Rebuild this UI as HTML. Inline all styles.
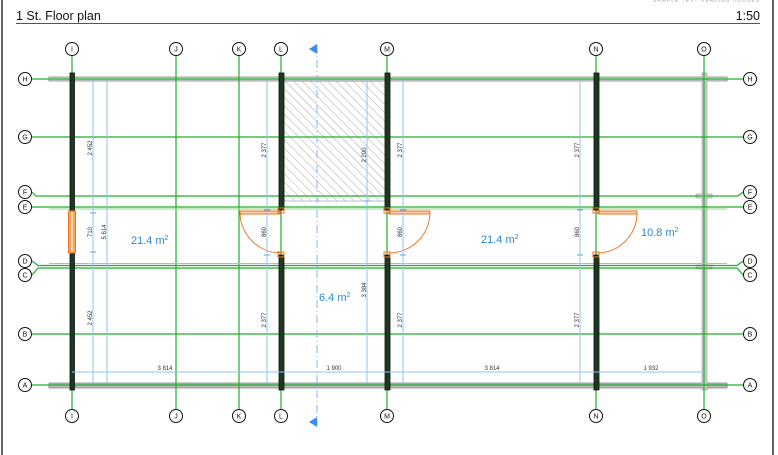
<!DOCTYPE html>
<html><head><meta charset="utf-8"><style>
html,body{margin:0;padding:0;background:#fff;width:778px;height:455px;overflow:hidden}
svg{display:block;font-family:"Liberation Sans",sans-serif}
</style></head><body>
<svg width="778" height="455" viewBox="0 0 778 455" xmlns="http://www.w3.org/2000/svg">
<defs>
<pattern id="h" width="6" height="6" patternUnits="userSpaceOnUse" patternTransform="rotate(-45)">
<line x1="0" y1="0" x2="0" y2="6" stroke="#999" stroke-width="0.8"/></pattern>
</defs>
<!-- frame -->
<line x1="2" y1="0" x2="2" y2="455" stroke="#000" stroke-width="1.2"/>
<line x1="773" y1="0" x2="773" y2="455" stroke="#000" stroke-width="1.2"/>
<text x="16" y="20" font-size="12.5" fill="#111">1 St. Floor plan</text>
<text x="760" y="20" font-size="12.5" fill="#111" text-anchor="end">1:50</text>
<text x="760" y="2" font-size="5" fill="#aaa" text-anchor="end" letter-spacing="1">SAMPLE TEXT HEADING HOUSES</text>
<line x1="16" y1="23.5" x2="760" y2="23.5" stroke="#555" stroke-width="1"/>

<!-- hatched area -->
<rect x="284" y="81" width="101" height="120" fill="url(#h)" stroke="#999" stroke-width="0.6"/>

<!-- outer walls -->
<rect x="49" y="77" width="678" height="4" fill="#ddd" stroke="#888" stroke-width="0.8"/>
<rect x="49" y="383" width="678" height="5" fill="#bbb" stroke="#888" stroke-width="0.8"/>
<rect x="702" y="73" width="5" height="317" fill="#ccc" stroke="#999" stroke-width="0.6"/>
<rect x="696" y="194" width="16" height="4" fill="#ddd" stroke="#999" stroke-width="0.6"/>
<rect x="696" y="265" width="16" height="4" fill="#ddd" stroke="#999" stroke-width="0.6"/>

<!-- grid lines -->
<g stroke="#1fae2a" stroke-width="1.2" fill="none">
<line x1="32" y1="79" x2="743" y2="79"/>
<line x1="32" y1="137" x2="743" y2="137"/>
<polyline points="32,192 36,196 738,196 743,192"/>
<line x1="32" y1="207" x2="743" y2="207"/>
<polyline points="32,261 38,265.5 737,265.5 743,261"/>
<polyline points="32,275 38,268 737,268 743,275"/>
<line x1="32" y1="334" x2="743" y2="334"/>
<line x1="32" y1="385" x2="743" y2="385"/>
<line x1="72" y1="56" x2="72" y2="409"/>
<line x1="176" y1="56" x2="176" y2="409"/>
<line x1="239" y1="56" x2="239" y2="409"/>
<line x1="281" y1="56" x2="281" y2="409"/>
<line x1="387" y1="56" x2="387" y2="409"/>
<line x1="596" y1="56" x2="596" y2="409"/>
<line x1="704" y1="56" x2="704" y2="409"/>
</g>
<g stroke="#8ed88e" stroke-width="1">
<line x1="49" y1="209" x2="727" y2="209"/>
<line x1="49" y1="263.5" x2="727" y2="263.5"/>
</g>

<!-- interior walls -->
<g fill="#1c3a20" stroke="#111" stroke-width="0.8">
<rect x="70" y="73" width="4.5" height="138"/><rect x="70" y="254" width="4.5" height="136"/>
<rect x="279" y="73" width="5" height="137"/><rect x="279" y="255" width="5" height="135"/>
<rect x="385" y="73" width="5" height="137"/><rect x="385" y="255" width="5" height="135"/>
<rect x="594" y="73" width="5" height="137"/><rect x="594" y="255" width="5" height="135"/>
</g>
<!-- window -->
<rect x="68.5" y="211" width="7" height="42" fill="#f7a860" stroke="#f07020" stroke-width="1"/>
<line x1="72" y1="212" x2="72" y2="252" stroke="#fff" stroke-width="1"/>

<!-- doors -->
<g fill="none" stroke="#f07020" stroke-width="1">
<rect x="240" y="211" width="40" height="3" fill="#fbd0b0"/>
<path d="M240,213 A41,41 0 0 0 281,253"/>
<rect x="278" y="208" width="6" height="5"/><rect x="278" y="252" width="6" height="5"/>
<rect x="389" y="211" width="41" height="3" fill="#fbd0b0"/>
<path d="M430,213 A41,41 0 0 1 389,253"/>
<rect x="384" y="208" width="6" height="5"/><rect x="384" y="252" width="6" height="5"/>
<rect x="598" y="211" width="39" height="3" fill="#fbd0b0"/>
<path d="M637,213 A40,40 0 0 1 598,253"/>
<rect x="593" y="208" width="6" height="5"/><rect x="593" y="252" width="6" height="5"/>
</g>

<!-- dimension lines -->
<g stroke="#8cc4f5" stroke-width="1" fill="none">
<line x1="93" y1="81" x2="93" y2="383"/>
<line x1="107" y1="81" x2="107" y2="383"/>
<line x1="267" y1="81" x2="267" y2="383"/>
<line x1="367" y1="81" x2="367" y2="383"/>
<line x1="403" y1="81" x2="403" y2="383"/>
<line x1="580" y1="81" x2="580" y2="383"/>
<line x1="72" y1="372" x2="704" y2="372"/>
</g>
<g stroke="#5aa8ee" stroke-width="1">
<line x1="90" y1="213" x2="96" y2="213"/><line x1="90" y1="252" x2="96" y2="252"/>
<line x1="264" y1="210" x2="270" y2="210"/><line x1="264" y1="255" x2="270" y2="255"/>
<line x1="400" y1="210" x2="406" y2="210"/><line x1="400" y1="255" x2="406" y2="255"/>
<line x1="577" y1="210" x2="583" y2="210"/><line x1="577" y1="255" x2="583" y2="255"/>
<line x1="364" y1="201" x2="370" y2="201"/>
</g>
<g font-size="6" fill="#333" text-anchor="middle">
<text transform="translate(92,148) rotate(-90)">2 452</text>
<text transform="translate(92,232) rotate(-90)">710</text>
<text transform="translate(106,232) rotate(-90)">5 614</text>
<text transform="translate(92,318) rotate(-90)">2 452</text>
<text transform="translate(266,150) rotate(-90)">2 377</text>
<text transform="translate(266,232) rotate(-90)">860</text>
<text transform="translate(266,320) rotate(-90)">2 377</text>
<text transform="translate(366,155) rotate(-90)">2 200</text>
<text transform="translate(366,290) rotate(-90)">3 384</text>
<text transform="translate(402,150) rotate(-90)">2 377</text>
<text transform="translate(402,232) rotate(-90)">860</text>
<text transform="translate(402,320) rotate(-90)">2 377</text>
<text transform="translate(579,150) rotate(-90)">2 377</text>
<text transform="translate(579,232) rotate(-90)">860</text>
<text transform="translate(579,320) rotate(-90)">2 377</text>
<text x="165" y="370">3 814</text>
<text x="334" y="370">1 900</text>
<text x="492" y="370">3 814</text>
<text x="651" y="370">1 932</text>
</g>

<!-- section line -->
<line x1="317" y1="45" x2="317" y2="425" stroke="#7ab8f0" stroke-width="1" stroke-dasharray="8,3,1,3"/>
<polygon points="309,49 317,44 317,54" fill="#3a8ef0"/>
<polygon points="309,422 317,417 317,427" fill="#3a8ef0"/>

<!-- area labels -->
<g font-size="11" fill="#2a8ad0">
<text x="131" y="244">21.4 m<tspan font-size="7" dy="-4">2</tspan></text>
<text x="319" y="301">6.4 m<tspan font-size="7" dy="-4">2</tspan></text>
<text x="481" y="243">21.4 m<tspan font-size="7" dy="-4">2</tspan></text>
<text x="641" y="236">10.8 m<tspan font-size="7" dy="-4">2</tspan></text>
</g>

<!-- grid bubbles -->
<g fill="#fff" stroke="#111" stroke-width="1">
<circle cx="72" cy="49" r="6.5"/><circle cx="176" cy="49" r="6.5"/><circle cx="239" cy="49" r="6.5"/>
<circle cx="281" cy="49" r="6.5"/><circle cx="387" cy="49" r="6.5"/><circle cx="596" cy="49" r="6.5"/><circle cx="704" cy="49" r="6.5"/>
<circle cx="72" cy="416" r="6.5"/><circle cx="176" cy="416" r="6.5"/><circle cx="239" cy="416" r="6.5"/>
<circle cx="281" cy="416" r="6.5"/><circle cx="387" cy="416" r="6.5"/><circle cx="596" cy="416" r="6.5"/><circle cx="704" cy="416" r="6.5"/>
<circle cx="25" cy="79" r="6.5"/><circle cx="25" cy="137" r="6.5"/><circle cx="25" cy="192" r="6.5"/><circle cx="25" cy="207" r="6.5"/>
<circle cx="25" cy="261" r="6.5"/><circle cx="25" cy="275" r="6.5"/><circle cx="25" cy="334" r="6.5"/><circle cx="25" cy="385" r="6.5"/>
<circle cx="750" cy="79" r="6.5"/><circle cx="750" cy="137" r="6.5"/><circle cx="750" cy="192" r="6.5"/><circle cx="750" cy="207" r="6.5"/>
<circle cx="750" cy="261" r="6.5"/><circle cx="750" cy="275" r="6.5"/><circle cx="750" cy="334" r="6.5"/><circle cx="750" cy="385" r="6.5"/>
</g>
<g font-size="7" fill="#111" text-anchor="middle">
<text x="72" y="51.5">I</text><text x="176" y="51.5">J</text><text x="239" y="51.5">K</text><text x="281" y="51.5">L</text><text x="387" y="51.5">M</text><text x="596" y="51.5">N</text><text x="704" y="51.5">O</text>
<text x="72" y="418.5">I</text><text x="176" y="418.5">J</text><text x="239" y="418.5">K</text><text x="281" y="418.5">L</text><text x="387" y="418.5">M</text><text x="596" y="418.5">N</text><text x="704" y="418.5">O</text>
<text x="25" y="81.5">H</text><text x="25" y="139.5">G</text><text x="25" y="194.5">F</text><text x="25" y="209.5">E</text><text x="25" y="263.5">D</text><text x="25" y="277.5">C</text><text x="25" y="336.5">B</text><text x="25" y="387.5">A</text>
<text x="750" y="81.5">H</text><text x="750" y="139.5">G</text><text x="750" y="194.5">F</text><text x="750" y="209.5">E</text><text x="750" y="263.5">D</text><text x="750" y="277.5">C</text><text x="750" y="336.5">B</text><text x="750" y="387.5">A</text>
</g>
</svg>
</body></html>
